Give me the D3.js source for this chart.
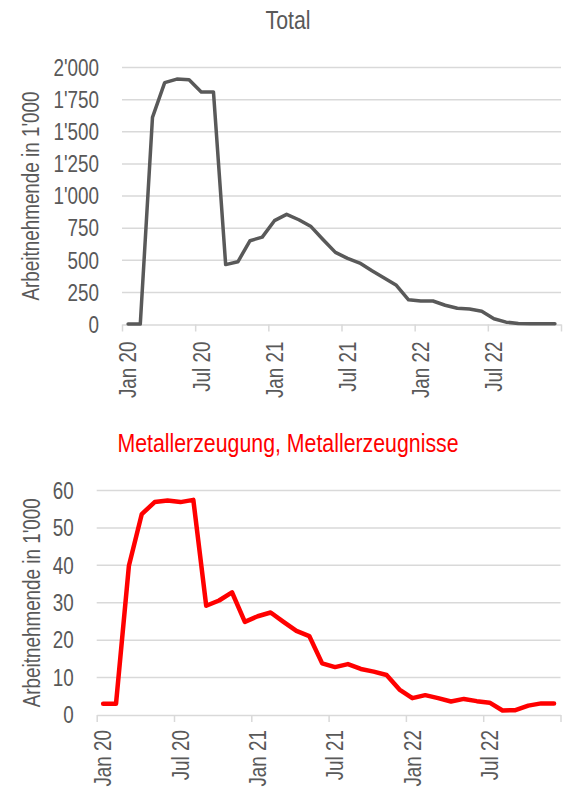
<!DOCTYPE html>
<html>
<head>
<meta charset="utf-8">
<script src="https://cdn.jsdelivr.net/npm/d3@7"></script>
<style>
  body { margin: 0; background: #fff; }
  text { font-family: "Liberation Sans Narrow", "Arial Narrow", "Liberation Sans", Arial, sans-serif; }
</style>
</head>
<body>
<script>
// months Jan 2020 .. Dec 2022
var months = [
  "2020-01","2020-02","2020-03","2020-04","2020-05","2020-06","2020-07","2020-08","2020-09","2020-10","2020-11","2020-12",
  "2021-01","2021-02","2021-03","2021-04","2021-05","2021-06","2021-07","2021-08","2021-09","2021-10","2021-11","2021-12",
  "2022-01","2022-02","2022-03","2022-04","2022-05","2022-06","2022-07","2022-08","2022-09","2022-10","2022-11","2022-12"
];
var tickLabels = ["Jan 20","Jul 20","Jan 21","Jul 21","Jan 22","Jul 22"];
var tickEvery = 6;

// Arbeitnehmende in 1'000
var total = [3,3,1612,1882,1910,1905,1810,1810,466,488,652,680,
  808,857,815,762,660,561,515,478,418,362,305,192,
  182,183,150,126,120,103,45,18,8,5,5,5];
var metal = [3.0,3.0,39.9,53.7,56.9,57.3,56.9,57.5,29.2,30.6,32.8,24.9,
  26.4,27.4,24.9,22.5,21.1,13.8,12.8,13.6,12.3,11.6,10.7,6.8,
  4.5,5.3,4.5,3.6,4.3,3.7,3.3,1.2,1.3,2.5,3.1,3.1];

var totalTicks = [0,250,500,750,1000,1250,1500,1750,2000];
var metalTicks = [0,10,20,30,40,50,60];

var W = 563, H = 789;
var grey = "#595959", gridCol = "#d9d9d9";
var fmt = d3.formatLocale({decimal: ".", thousands: "'", grouping: [3], currency: ["", ""]}).format(",");

// no narrow font installed -> squeeze a normal sans horizontally
var squeeze = 0.82;
function place(x, y, rot) {
  return "translate(" + x + "," + y + ")" + (rot ? " rotate(" + rot + ")" : "") + " scale(" + squeeze + ",1)";
}

var svg = d3.select("body").append("svg")
  .attr("width", W)
  .attr("height", H);

function drawPanel(cfg) {
  var g = svg.append("g");
  var x = d3.scaleBand().domain(months).range([cfg.left, cfg.right]).padding(0);
  var xi = d3.scaleLinear().domain([0, months.length]).range([cfg.left, cfg.right]);
  var y = d3.scaleLinear().domain([0, cfg.max]).range([cfg.bottom, cfg.top]);

  // gridlines
  g.selectAll("line.grid")
    .data(cfg.ticks.filter(function(d){ return d > 0; }))
    .enter().append("line")
    .attr("class", "grid")
    .attr("x1", cfg.left).attr("x2", cfg.right)
    .attr("y1", function(d){ return y(d); })
    .attr("y2", function(d){ return y(d); })
    .attr("stroke", gridCol)
    .attr("stroke-width", 1.5);

  // y labels
  g.selectAll("text.ylab")
    .data(cfg.ticks)
    .enter().append("text")
    .attr("class", "ylab")
    .attr("transform", function(d){ return place(cfg.left - 23, y(d)); })
    .attr("dy", "0.36em")
    .attr("text-anchor", "end")
    .attr("fill", grey)
    .style("font-size", "23px")
    .text(function(d){ return fmt(d); });

  // x axis, ticks on category boundaries
  var tv = d3.range(0, months.length + 1, tickEvery);
  var ax = g.append("g")
    .attr("transform", "translate(0," + y(0) + ")")
    .call(d3.axisBottom(xi).tickValues(tv).tickSize(7).tickSizeOuter(0).tickFormat(""));
  ax.select(".domain").attr("stroke", gridCol).attr("stroke-width", 1.5);
  ax.selectAll(".tick line").attr("stroke", gridCol).attr("stroke-width", 1.5);

  // x labels at the first category of each group
  g.selectAll("text.xlab")
    .data(tickLabels)
    .enter().append("text")
    .attr("class", "xlab")
    .attr("transform", function(d, i){
      var cx = x(months[i * tickEvery]) + x.bandwidth() / 2;
      return place(cx, y(0) + cfg.labGap, -90);
    })
    .attr("dy", "0.36em")
    .attr("text-anchor", "end")
    .attr("fill", grey)
    .style("font-size", "23px")
    .text(function(d){ return d; });

  // y title
  g.append("text")
    .attr("transform", place(cfg.titleX, (cfg.top + cfg.bottom) / 2, -90))
    .attr("dy", "0.36em")
    .attr("text-anchor", "middle")
    .attr("fill", grey)
    .style("font-size", "23px")
    .text("Arbeitnehmende in 1'000");

  // chart title
  g.append("text")
    .attr("transform", place(288, cfg.headY))
    .attr("text-anchor", "middle")
    .attr("fill", cfg.headCol)
    .style("font-size", "26px")
    .text(cfg.head);

  var line = d3.line()
    .x(function(d, i){ return x(months[i]) + x.bandwidth() / 2; })
    .y(function(d){ return y(d); });
  g.append("path")
    .datum(cfg.values)
    .attr("d", line)
    .attr("fill", "none")
    .attr("stroke", cfg.color)
    .attr("stroke-width", cfg.width)
    .attr("stroke-linejoin", "round")
    .attr("stroke-linecap", "round");
}

drawPanel({
  values: total, ticks: totalTicks, max: 2000,
  left: 122, right: 561, top: 67.5, bottom: 324.5,
  color: "#595959", width: 3.5,
  head: "Total", headCol: grey, headY: 29,
  titleX: 31, labGap: 17
});

drawPanel({
  values: metal, ticks: metalTicks, max: 60,
  left: 96.7, right: 560.5, top: 490.5, bottom: 715,
  color: "#ff0000", width: 4.5,
  head: "Metallerzeugung, Metallerzeugnisse", headCol: "#ff0000", headY: 452,
  titleX: 32, labGap: 15
});
</script>
</body>
</html>
